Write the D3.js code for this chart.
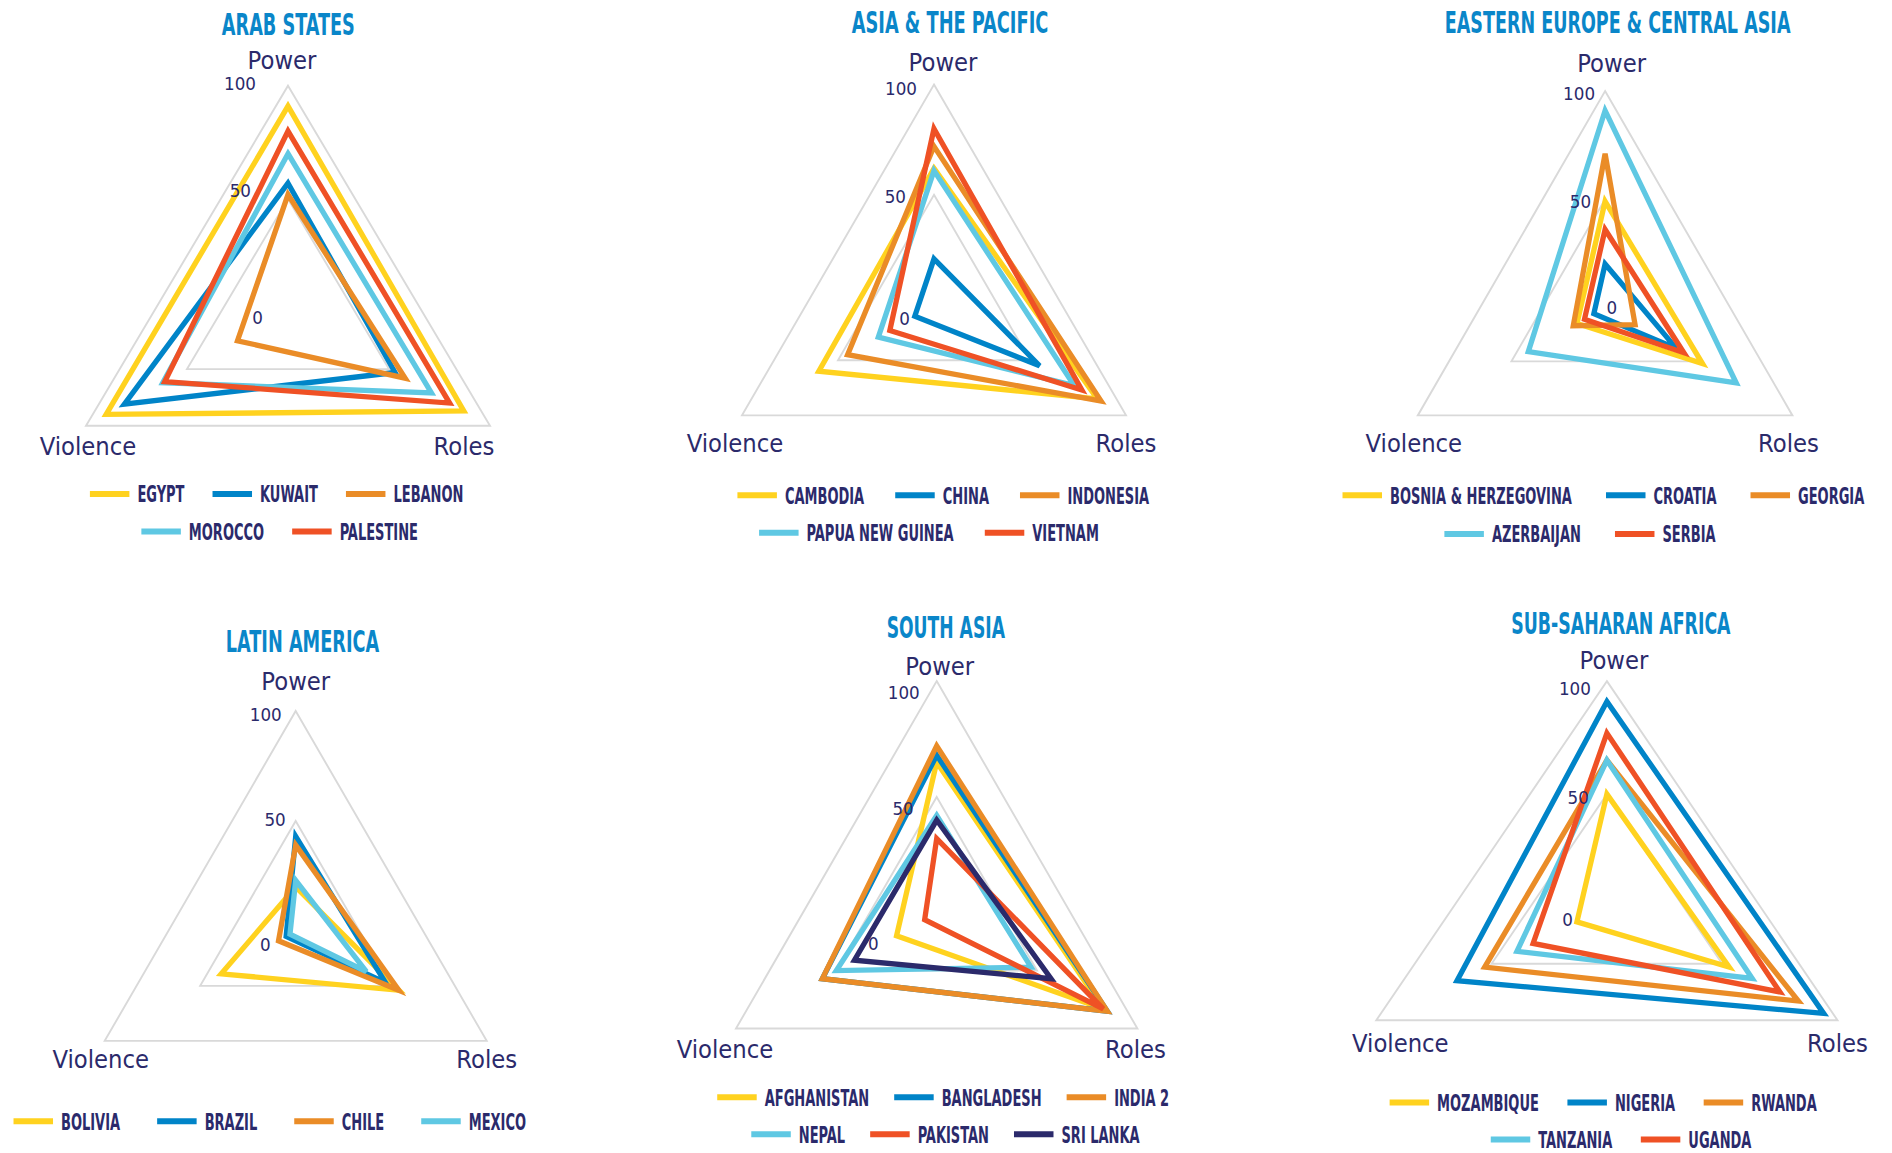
<!DOCTYPE html>
<html><head><meta charset="utf-8">
<script src="https://cdn.jsdelivr.net/npm/d3@7"></script>
<style>body{margin:0;background:#fff;} svg{display:block}</style>
</head><body>
<svg id="chart" width="1892" height="1153"></svg>
<script>
// ---------- DATA ----------
const axisNames = ["Power", "Roles", "Violence"];
const tickValues = [0, 50, 100];
const tickLabels = ["0", "50", "100"];
const seriesColors = ["#FFD21F", "#0084C8", "#EA8C27", "#5FC8E3", "#EF5125", "#2B2A6B"];

const regionTitles = ["ARAB STATES", "ASIA & THE PACIFIC", "EASTERN EUROPE & CENTRAL ASIA",
  "LATIN AMERICA", "SOUTH ASIA", "SUB-SAHARAN AFRICA"];

const arabCountries = ["EGYPT", "KUWAIT", "LEBANON", "MOROCCO", "PALESTINE"];
const arabPower    = [91, 57, 52, 70, 80];
const arabRoles    = [87, 53, 58, 71, 80];
const arabViolence = [90, 81, 25, 62, 61];

const asiaCountries = ["CAMBODIA", "CHINA", "INDONESIA", "PAPUA NEW GUINEA", "VIETNAM"];
const asiaPower    = [62, 21, 72, 61, 80];
const asiaRoles    = [85, 55, 87, 73, 77];
const asiaViolence = [60, 10, 45, 29, 23];

const eecaCountries = ["BOSNIA & HERZEGOVINA", "CROATIA", "GEORGIA", "AZERBAIJAN", "SERBIA"];
const eecaPower    = [49, 20, 71, 91, 36];
const eecaRoles    = [52, 38, 16, 70, 42];
const eecaViolence = [15, 6, 17, 41, 11];

const latamCountries = ["BOLIVIA", "BRAZIL", "CHILE", "MEXICO"];
const latamPower    = [20, 43, 39, 23];
const latamRoles    = [54, 47, 54, 37];
const latamViolence = [39, 5, 9, 3];

const southAsiaCountries = ["AFGHANISTAN", "BANGLADESH", "INDIA 2", "NEPAL", "PAKISTAN", "SRI LANKA"];
const southAsiaPower    = [65, 68, 72, 42, 32, 40];
const southAsiaRoles    = [83, 85, 85, 47, 83, 57];
const southAsiaViolence = [20, 57, 57, 50, 6, 41];

const ssaCountries = ["MOZAMBIQUE", "NIGERIA", "RWANDA", "TANZANIA", "UGANDA"];
const ssaPower    = [50, 91, 65, 65, 77];
const ssaRoles    = [53, 94, 83, 63, 75];
const ssaViolence = [13, 65, 53, 39, 32];

const regions = [
  {title: regionTitles[0], countries: arabCountries, values: [arabPower, arabRoles, arabViolence]},
  {title: regionTitles[1], countries: asiaCountries, values: [asiaPower, asiaRoles, asiaViolence]},
  {title: regionTitles[2], countries: eecaCountries, values: [eecaPower, eecaRoles, eecaViolence]},
  {title: regionTitles[3], countries: latamCountries, values: [latamPower, latamRoles, latamViolence]},
  {title: regionTitles[4], countries: southAsiaCountries, values: [southAsiaPower, southAsiaRoles, southAsiaViolence]},
  {title: regionTitles[5], countries: ssaCountries, values: [ssaPower, ssaRoles, ssaViolence]}
];

// ---------- LAYOUT ----------
const layout = [
  {cx: 288, cy: 312.4, ry: 226.7, hx: 202, titleX: 288.3, titleY: 35.0, titleW: 133,
   ticks: [[-25, 5], [-37, -9], [-32, -3]],
   axisOff: [[-6, -25], [-26, 21], [2, 21]], gap: 28,
   legend: [{y: 493.9, cx: 276.7, n: 3}, {y: 531.4, cx: 279.7, n: 2}]},
  {cx: 934, cy: 305.1, ry: 220.5, hx: 192, titleX: 950, titleY: 32.9, titleW: 196.7,
   ticks: [[-24, 13], [-28, 1], [-17, 4]],
   axisOff: [[9, -22], [0, 28], [-7, 28]], gap: 31,
   legend: [{y: 495.3, cx: 943.3, n: 3}, {y: 532.8, cx: 929, n: 2}]},
  {cx: 1605.1, cy: 307.3, ry: 216.2, hx: 187.3, titleX: 1617.6, titleY: 32.9, titleW: 345.9,
   ticks: [[12, 0], [-14, 2], [-10, 2]],
   axisOff: [[6.5, -28], [-4, 28], [-4, 28]], gap: 34,
   legend: [{y: 495.3, cx: 1603.4, n: 3}, {y: 533.9, cx: 1580, n: 2}]},
  {cx: 295.7, cy: 930.9, ry: 219.9, hx: 191.0, titleX: 302.5, titleY: 651.8, titleW: 153.5,
   ticks: [[-25, 13], [-10, -2], [-14, 3]],
   axisOff: [[0, -30], [0, 19], [-4, 19]], gap: 37,
   legend: [{y: 1121.3, cx: 269.8, n: 4}]},
  {cx: 936.7, cy: 912.7, ry: 231.6, hx: 200.7, titleX: 945.8, titleY: 637.8, titleW: 118.3,
   ticks: [[-58, 30], [-23, 11], [-17, 11]],
   axisOff: [[3, -15], [-2, 21], [-11, 21]], gap: 25,
   legend: [{y: 1097.3, cx: 943.2, n: 3}, {y: 1134.3, cx: 945.5, n: 3}]},
  {cx: 1606.9, cy: 907.2, ry: 226.1, hx: 230.6, titleX: 1620.9, titleY: 633.5, titleW: 219.4,
   ticks: [[-34, 12], [-18, 3], [-16, 7]],
   axisOff: [[7, -21], [0, 23], [24, 23]], gap: 28.5,
   legend: [{y: 1102.6, cx: 1603.2, n: 3}, {y: 1139.6, cx: 1621.1, n: 2}]}
];

const NAVY = "#2B2A6B";
const TITLE_BLUE = "#0A86C9";
const GRID = "#D9D9D9";
const condFont = "'Liberation Sans Narrow','DejaVu Sans Condensed','DejaVu Sans',sans-serif";
const axisFont = "'DejaVu Sans',sans-serif";

const svg = d3.select("#chart");

function measure(text, font, size, weight) {
  const t = svg.append("text").attr("font-family", font).attr("font-size", size)
    .attr("font-weight", weight).text(text);
  const w = t.node().getComputedTextLength();
  t.remove();
  return w;
}
const legendSize = 23.5;
const legendFactor = 182 / measure("BOSNIA & HERZEGOVINA", condFont, legendSize, "bold");
const axisSize = 24;
const axisFactor = 96.7 / measure("Violence", axisFont, axisSize, "normal");
const tickFactor = 32 / measure("100", axisFont, 18.5, "normal");

const angles = axisNames.map((d, i) => i * 2 * Math.PI / axisNames.length);

regions.forEach((reg, ri) => {
  const L = layout[ri];
  const rx = L.hx / Math.sin(Math.PI / 3);
  const xs = d3.scaleLinear().domain([-100, 100]).range([L.cx - rx, L.cx + rx]);
  const ys = d3.scaleLinear().domain([-100, 100]).range([L.cy - L.ry, L.cy + L.ry]);
  const px = (v, a) => xs(v * Math.sin(a));
  const py = (v, a) => ys(-v * Math.cos(a));

  const g = svg.append("g");
  const line = d3.line().x(d => px(d.v, d.a)).y(d => py(d.v, d.a)).curve(d3.curveLinearClosed);

  tickValues.filter(t => t > 0).forEach(t => {
    g.append("path")
      .attr("d", line(angles.map(a => ({v: t, a}))))
      .attr("fill", "none").attr("stroke", GRID).attr("stroke-width", 1.9);
  });

  reg.countries.forEach((c, ci) => {
    const pts = angles.map((a, ai) => ({v: reg.values[ai][ci], a}));
    g.append("path")
      .attr("d", line(pts))
      .attr("fill", "none")
      .attr("stroke", seriesColors[ci])
      .attr("stroke-width", 5.3)
      .attr("stroke-linejoin", "miter")
      .attr("stroke-miterlimit", 4);
  });

  tickValues.forEach((t, ti) => {
    const off = L.ticks[ti];
    const x = px(t, 0) + off[0];
    const y = py(t, 0) + off[1] + 6.8;
    g.append("text")
      .attr("transform", `translate(${x},${y}) scale(${tickFactor},1)`)
      .attr("text-anchor", "end")
      .attr("font-family", axisFont).attr("font-size", 18.5)
      .attr("fill", NAVY)
      .text(tickLabels[ti]);
  });

  axisNames.forEach((name, ai) => {
    const off = L.axisOff[ai];
    const x = px(100, angles[ai]) + off[0];
    const y = py(100, angles[ai]) + off[1] + 8.5;
    g.append("text")
      .attr("transform", `translate(${x},${y}) scale(${axisFactor},1)`)
      .attr("text-anchor", "middle")
      .attr("font-family", axisFont).attr("font-size", axisSize)
      .attr("fill", NAVY)
      .text(name);
  });

  const tt = g.append("text")
    .attr("text-anchor", "middle")
    .attr("font-family", condFont).attr("font-size", 31).attr("font-weight", "bold")
    .attr("fill", TITLE_BLUE)
    .text(reg.title);
  const tw = tt.node().getComputedTextLength();
  tt.attr("transform", `translate(${L.titleX},${L.titleY}) scale(${L.titleW / tw},1)`);

  let idx = 0;
  const lineLen = 39.5, lineGap = 8, itemGap = L.gap;
  L.legend.forEach(row => {
    const items = reg.countries.slice(idx, idx + row.n).map((c, k) => ({c, ci: idx + k}));
    idx += row.n;
    const widths = items.map(it => measure(it.c, condFont, legendSize, "bold") * legendFactor);
    const total = d3.sum(widths) + items.length * (lineLen + lineGap) + (items.length - 1) * itemGap;
    let x = row.cx - total / 2;
    items.forEach((it, k) => {
      g.append("line")
        .attr("x1", x).attr("x2", x + lineLen)
        .attr("y1", row.y).attr("y2", row.y)
        .attr("stroke", seriesColors[it.ci]).attr("stroke-width", 6);
      g.append("text")
        .attr("transform", `translate(${x + lineLen + lineGap},${row.y + 8.5}) scale(${legendFactor},1)`)
        .attr("font-family", condFont).attr("font-size", legendSize).attr("font-weight", "bold")
        .attr("fill", NAVY)
        .text(it.c);
      x += lineLen + lineGap + widths[k] + itemGap;
    });
  });
});
</script>
</body></html>
